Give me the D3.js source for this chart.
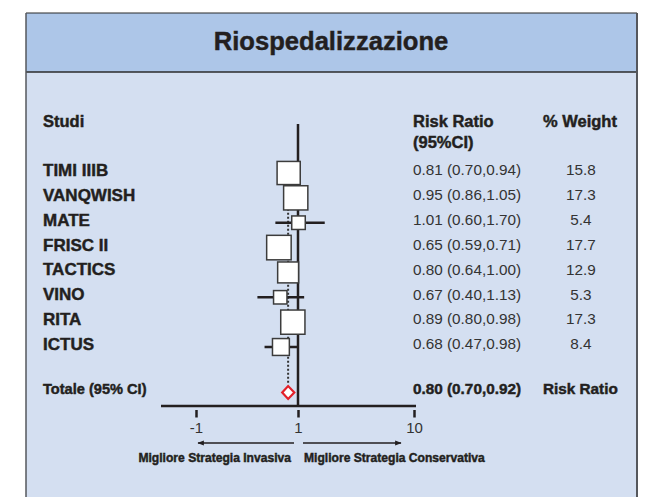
<!DOCTYPE html>
<html>
<head>
<meta charset="utf-8">
<script src="https://cdn.jsdelivr.net/npm/d3@7"></script>
<style>
  html, body { margin: 0; padding: 0; background: #ffffff; }
  svg { display: block; font-family: "Liberation Sans", Arial, Helvetica, sans-serif; }
  .heavy { stroke: #231f20; stroke-width: 0.45px; }
</style>
</head>
<body>
<svg id="chart" width="649" height="497"></svg>
<script>
// Studies in the meta-analysis, in drawing order
const studies = ["TIMI IIIB", "VANQWISH", "MATE", "FRISC II", "TACTICS", "VINO", "RITA", "ICTUS"];
// Risk ratio point estimates and 95% confidence bounds
const riskRatio = [0.81, 0.95, 1.01, 0.65, 0.80, 0.67, 0.89, 0.68];
const ciLow     = [0.70, 0.86, 0.60, 0.59, 0.64, 0.40, 0.80, 0.47];
const ciHigh    = [0.94, 1.05, 1.70, 0.71, 1.00, 1.13, 0.98, 0.98];
// Percentage weight of each study
const weights   = [15.8, 17.3, 5.4, 17.7, 12.9, 5.3, 17.3, 8.4];
// Pooled estimate
const totalRR = 0.80, totalLow = 0.70, totalHigh = 0.92;
// Axis ticks
const tickValues = [0.1, 1, 10];
const tickLabels = ["-1", "1", "10"];

const W = 649, H = 497;
const svg = d3.select("#chart");
const ink = "#231f20";
const grey = "#333333";

// Panel frame
const frame = { left: 26, top: 13, right: 637, headerBottom: 72 };
svg.append("rect")
  .attr("x", frame.left).attr("y", frame.top)
  .attr("width", frame.right - frame.left).attr("height", H - frame.top + 5)
  .attr("fill", "#d4dff1");
svg.append("rect")
  .attr("x", frame.left).attr("y", frame.top)
  .attr("width", frame.right - frame.left).attr("height", frame.headerBottom - frame.top)
  .attr("fill", "#adc6e8");
svg.append("line")
  .attr("x1", frame.left).attr("x2", frame.right)
  .attr("y1", frame.top).attr("y2", frame.top)
  .attr("stroke", "#2b2b2b").attr("stroke-width", 1.2);
svg.append("line")
  .attr("x1", frame.left).attr("x2", frame.right)
  .attr("y1", frame.headerBottom).attr("y2", frame.headerBottom)
  .attr("stroke", "#2b2b2b").attr("stroke-width", 1.5);
svg.append("line")
  .attr("x1", frame.left).attr("x2", frame.left)
  .attr("y1", frame.top).attr("y2", H + 5)
  .attr("stroke", "#55575c").attr("stroke-width", 1.5);
svg.append("line")
  .attr("x1", frame.right).attr("x2", frame.right)
  .attr("y1", frame.top).attr("y2", H + 5)
  .attr("stroke", "#55575c").attr("stroke-width", 2);

// Title
svg.append("text")
  .attr("class", "heavy")
  .attr("x", 331).attr("y", 49.5)
  .attr("text-anchor", "middle")
  .attr("font-size", 25.6).attr("font-weight", "bold")
  .attr("fill", ink)
  .text("Riospedalizzazione");

// Scales: log scale on risk ratio, rows on a point scale
const x = d3.scaleLog().domain([0.1, 1, 10]).range([196, 298, 414]);
const y = d3.scalePoint().domain(d3.range(studies.length)).range([170, 344]);
const side = d3.scaleSqrt().domain([0, d3.max(weights)]).range([0, 24.5]);
const markOffset = 3;

const axisY = 406;
const topY = 124;

// Column headers
const colName = 43, colRR = 413, colW = 543, colWCenter = 581;
const header = svg.append("g").attr("class", "heavy")
  .attr("font-weight", "bold").attr("font-size", 16.5).attr("fill", ink);
header.append("text").attr("x", colName).attr("y", 121).attr("dy", "0.35em").text("Studi");
header.append("text").attr("x", colRR).attr("y", 121).attr("dy", "0.35em").text("Risk Ratio");
header.append("text").attr("x", colRR).attr("y", 142).attr("dy", "0.35em").text("(95%CI)");
header.append("text").attr("x", colW).attr("y", 121).attr("dy", "0.35em").text("% Weight");

// Line of no effect
svg.append("line")
  .attr("x1", x(1)).attr("x2", x(1))
  .attr("y1", topY).attr("y2", axisY)
  .attr("stroke", ink).attr("stroke-width", 2.5);

// Dotted line at the pooled estimate
const diamondY = 392.5, diamondHalf = 6.5;
svg.append("line")
  .attr("x1", x(totalRR)).attr("x2", x(totalRR))
  .attr("y1", y(1) + 6).attr("y2", diamondY - diamondHalf - 3)
  .attr("stroke", grey).attr("stroke-width", 2)
  .attr("stroke-dasharray", "2,2");

const rows = studies.map((s, i) => ({
  name: s, rr: riskRatio[i], lo: ciLow[i], hi: ciHigh[i], w: weights[i], i
}));

// Confidence intervals
svg.append("g").selectAll("line").data(rows).join("line")
  .attr("x1", d => x(d.lo)).attr("x2", d => x(d.hi))
  .attr("y1", d => y(d.i) + markOffset).attr("y2", d => y(d.i) + markOffset)
  .attr("stroke", ink).attr("stroke-width", 2.5);

// Weighted squares
svg.append("g").selectAll("rect").data(rows).join("rect")
  .attr("x", d => x(d.rr) - side(d.w) / 2)
  .attr("y", d => y(d.i) + markOffset - side(d.w) / 2)
  .attr("width", d => side(d.w)).attr("height", d => side(d.w))
  .attr("fill", "#ffffff")
  .attr("stroke", "#3c3c3c").attr("stroke-width", 1.5);

// Study labels, estimates and weights
const f2 = d3.format(".2f"), f1 = d3.format(".1f");
const rowText = svg.append("g");
rowText.selectAll("text.name").data(rows).join("text")
  .attr("class", "name heavy")
  .attr("x", colName).attr("y", d => y(d.i)).attr("dy", "0.35em")
  .attr("font-size", 17).attr("font-weight", "bold").attr("fill", ink)
  .text(d => d.name);
rowText.selectAll("text.est").data(rows).join("text")
  .attr("class", "est")
  .attr("x", colRR).attr("y", d => y(d.i)).attr("dy", "0.35em")
  .attr("font-size", 15.3).attr("fill", grey)
  .text(d => `${f2(d.rr)} (${f2(d.lo)},${f2(d.hi)})`);
rowText.selectAll("text.wt").data(rows).join("text")
  .attr("class", "wt")
  .attr("x", colWCenter).attr("y", d => y(d.i)).attr("dy", "0.35em")
  .attr("text-anchor", "middle")
  .attr("font-size", 15.3).attr("fill", grey)
  .text(d => f1(d.w));

// Pooled row
const totY = 389;
const totals = svg.append("g").attr("class", "heavy")
  .attr("font-weight", "bold").attr("fill", ink);
totals.append("text").attr("x", colName).attr("y", totY).attr("dy", "0.35em")
  .attr("font-size", 14.6)
  .text("Totale (95% CI)");
totals.append("text").attr("x", colRR).attr("y", totY).attr("dy", "0.35em")
  .attr("font-size", 15.3)
  .text(`${f2(totalRR)} (${f2(totalLow)},${f2(totalHigh)})`);
totals.append("text").attr("x", colW).attr("y", totY).attr("dy", "0.35em")
  .attr("font-size", 15.3)
  .text("Risk Ratio");

// Pooled diamond
const diamond = [
  [x(totalLow), diamondY], [x(totalRR), diamondY - diamondHalf],
  [x(totalHigh), diamondY], [x(totalRR), diamondY + diamondHalf]
];
svg.append("polygon")
  .attr("points", diamond.map(p => p.join(",")).join(" "))
  .attr("fill", "#ffffff").attr("stroke", "#e3202a").attr("stroke-width", 2.2)
  .attr("stroke-linejoin", "miter");

// Horizontal axis
svg.append("line")
  .attr("x1", x(tickValues[0]) - 35).attr("x2", x(tickValues[tickValues.length - 1]) + 2)
  .attr("y1", axisY).attr("y2", axisY)
  .attr("stroke", ink).attr("stroke-width", 2.5);
const axis = d3.axisBottom(x)
  .tickValues(tickValues)
  .tickFormat((d, i) => tickLabels[i])
  .tickSizeInner(7.5).tickSizeOuter(0).tickPadding(5);
const gAxis = svg.append("g").attr("transform", `translate(0,${axisY + 4})`).call(axis);
gAxis.select(".domain").remove();
gAxis.selectAll(".tick line").attr("stroke", ink).attr("stroke-width", 2.5);
gAxis.selectAll(".tick text")
  .attr("font-family", "Liberation Sans, Arial, sans-serif")
  .attr("font-size", 15).attr("fill", grey);

// Direction arrows and captions
const arrowY = 443;
const defs = svg.append("defs");
defs.append("marker")
  .attr("id", "arrowhead").attr("viewBox", "0 0 10 10")
  .attr("refX", 9).attr("refY", 5)
  .attr("markerWidth", 5).attr("markerHeight", 5)
  .attr("orient", "auto-start-reverse")
  .append("path").attr("d", "M0,1 L10,5 L0,9 Z").attr("fill", ink);
svg.append("line")
  .attr("x1", x(1) - 4).attr("x2", x(1) - 100)
  .attr("y1", arrowY).attr("y2", arrowY)
  .attr("stroke", ink).attr("stroke-width", 1.3)
  .attr("marker-end", "url(#arrowhead)");
svg.append("line")
  .attr("x1", x(1) + 5).attr("x2", x(1) + 103)
  .attr("y1", arrowY).attr("y2", arrowY)
  .attr("stroke", ink).attr("stroke-width", 1.3)
  .attr("marker-end", "url(#arrowhead)");
const captions = svg.append("g").attr("class", "heavy")
  .attr("font-size", 12.1).attr("font-weight", "bold").attr("fill", ink);
captions.append("text").attr("x", x(1) - 7).attr("y", 458).attr("dy", "0.35em")
  .attr("text-anchor", "end")
  .text("Migliore Strategia Invasiva");
captions.append("text").attr("x", x(1) + 6).attr("y", 458).attr("dy", "0.35em")
  .text("Migliore Strategia Conservativa");
</script>
</body>
</html>
